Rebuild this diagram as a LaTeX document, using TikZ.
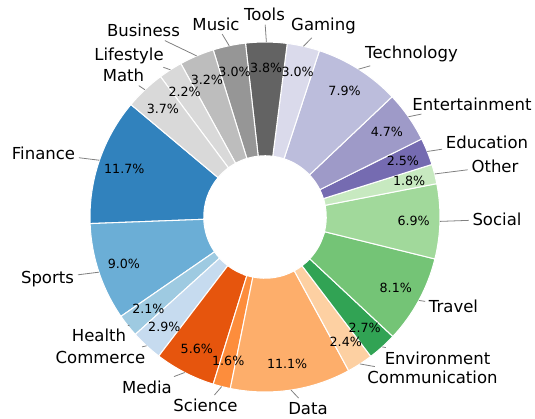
\documentclass[tikz,border=0pt]{standalone}
\usepackage{fontspec}
\setmainfont{DejaVu Sans}
\definecolor{colFinance}{HTML}{3182BD}
\definecolor{colSports}{HTML}{6BAED6}
\definecolor{colHealth}{HTML}{9ECAE1}
\definecolor{colCommerce}{HTML}{C6DBEF}
\definecolor{colMedia}{HTML}{E6550D}
\definecolor{colScience}{HTML}{FD8D3C}
\definecolor{colData}{HTML}{FDAE6B}
\definecolor{colCommunication}{HTML}{FDD0A2}
\definecolor{colEnvironment}{HTML}{31A354}
\definecolor{colTravel}{HTML}{74C476}
\definecolor{colSocial}{HTML}{A1D99B}
\definecolor{colOther}{HTML}{C7E9C0}
\definecolor{colEducation}{HTML}{756BB1}
\definecolor{colEntertainment}{HTML}{9E9AC8}
\definecolor{colTechnology}{HTML}{BCBDDC}
\definecolor{colGaming}{HTML}{DADAEB}
\definecolor{colTools}{HTML}{636363}
\definecolor{colMusic}{HTML}{969696}
\definecolor{colBusiness}{HTML}{BDBDBD}
\definecolor{colLifestyle}{HTML}{D9D9D9}
\definecolor{colMath}{HTML}{D9D9D9}
\def\ringpart[#1](#2:#3){\filldraw[fill=#1, draw=white, line width=0.6pt] (#2:1.225) -- (#2:3.5) arc (#2:#3:3.5) -- (#3:1.225) arc (#3:#2:1.225) -- cycle;}

\begin{document}
\begin{tikzpicture}[
		lbl/.style={font=\fontsize{9.4}{11}\selectfont, anchor=base, inner sep=2pt},
		pct/.style={font=\fontsize{7.2}{8.6}\selectfont, inner sep=0pt},
		leader/.style={draw=gray, line width=0.45pt}]
		%%%%% START %%%%%
		
		\useasboundingbox (-5.30,-4.02) rectangle (5.40,4.34);
		
		% ring
		\ringpart[colFinance](140:182.16)
		\ringpart[colSports](182.16:214.59)
		\ringpart[colHealth](214.59:222.16)
		\ringpart[colCommerce](222.16:232.61)
		\ringpart[colMedia](232.61:252.79)
		\ringpart[colScience](252.79:258.56)
		\ringpart[colData](258.56:298.56)
		\ringpart[colCommunication](298.56:307.21)
		\ringpart[colEnvironment](307.21:316.94)
		\ringpart[colTravel](316.94:346.13)
		\ringpart[colSocial](346.13:370.99)
		\ringpart[colOther](370.99:377.48)
		\ringpart[colEducation](377.48:386.49)
		\ringpart[colEntertainment](386.49:403.42)
		\ringpart[colTechnology](403.42:431.89)
		\ringpart[colGaming](431.89:442.70)
		\ringpart[colTools](442.70:456.40)
		\ringpart[colMusic](456.40:467.21)
		\ringpart[colBusiness](467.21:478.74)
		\ringpart[colLifestyle](478.74:486.67)
		\ringpart[colMath](486.67:500)
		
		% percentages
		\node[pct] (p-finance) at (161.08:2.975) {11.7\%};
		\node[pct] (p-sports) at (198.38:2.975) {9.0\%};
		\node[pct] (p-health) at (218.38:2.975) {2.1\%};
		\node[pct] (p-commerce) at (227.39:2.975) {2.9\%};
		\node[pct] (p-media) at (242.70:2.975) {5.6\%};
		\node[pct] (p-science) at (255.68:2.975) {1.6\%};
		\node[pct] (p-data) at (278.56:2.975) {11.1\%};
		\node[pct] (p-communication) at (302.89:2.975) {2.4\%};
		\node[pct] (p-environment) at (312.08:2.975) {2.7\%};
		\node[pct] (p-travel) at (331.54:2.975) {8.1\%};
		\node[pct] (p-social) at (358.56:2.975) {6.9\%};
		\node[pct] (p-other) at (374.24:2.975) {1.8\%};
		\node[pct] (p-education) at (381.99:2.975) {2.5\%};
		\node[pct] (p-entertainment) at (394.96:2.975) {4.7\%};
		\node[pct] (p-technology) at (417.66:2.975) {7.9\%};
		\node[pct] (p-gaming) at (437.30:2.975) {3.0\%};
		\node[pct] (p-tools) at (449.55:2.975) {3.8\%};
		\node[pct] (p-music) at (461.81:2.975) {3.0\%};
		\node[pct] (p-business) at (472.98:2.975) {3.2\%};
		\node[pct] (p-lifestyle) at (482.71:2.975) {2.2\%};
		\node[pct] (p-math) at (493.34:2.975) {3.7\%};
		
		% outer edge points
		\coordinate (e-finance) at (161.08:3.5);
		\coordinate (e-sports) at (198.38:3.5);
		\coordinate (e-health) at (218.38:3.5);
		\coordinate (e-commerce) at (227.39:3.5);
		\coordinate (e-media) at (242.70:3.5);
		\coordinate (e-science) at (255.68:3.5);
		\coordinate (e-data) at (278.56:3.5);
		\coordinate (e-communication) at (302.89:3.5);
		\coordinate (e-environment) at (312.08:3.5);
		\coordinate (e-travel) at (331.54:3.5);
		\coordinate (e-social) at (358.56:3.5);
		\coordinate (e-other) at (374.24:3.5);
		\coordinate (e-education) at (381.99:3.5);
		\coordinate (e-entertainment) at (394.96:3.5);
		\coordinate (e-technology) at (417.66:3.5);
		\coordinate (e-gaming) at (437.30:3.5);
		\coordinate (e-tools) at (449.55:3.5);
		\coordinate (e-music) at (461.81:3.5);
		\coordinate (e-business) at (472.98:3.5);
		\coordinate (e-lifestyle) at (482.71:3.5);
		\coordinate (e-math) at (493.34:3.5);
		
		% labels
		\node[lbl] (finance) at (-4.43, 1.15) {Finance};
		\node[lbl] (sports) at (-4.35, -1.32) {Sports};
		\node[lbl] (health) at (-3.32, -2.49) {Health};
		\node[lbl] (commerce) at (-3.29, -2.92) {Commerce};
		\node[lbl] (media) at (-2.36, -3.52) {Media};
		\node[lbl] (science) at (-1.19, -3.89) {Science};
		\node[lbl] (data) at (0.86, -3.94) {Data};
		\node[lbl] (communication) at (3.35, -3.32) {Communication};
		\node[lbl] (environment) at (3.45, -2.94) {Environment};
		\node[lbl] (travel) at (3.77, -1.90) {Travel};
		\node[lbl] (social) at (4.64, -0.17) {Social};
		\node[lbl] (other) at (4.60, 0.89) {Other};
		\node[lbl] (education) at (4.44, 1.37) {Education};
		\node[lbl] (entertainment) at (4.14, 2.14) {Entertainment};
		\node[lbl] (technology) at (2.93, 3.17) {Technology};
		\node[lbl] (gaming) at (1.17, 3.73) {Gaming};
		\node[lbl] (tools) at (-0.01, 3.93) {Tools};
		\node[lbl] (music) at (-0.98, 3.74) {Music};
		\node[lbl] (business) at (-2.43, 3.61) {Business};
		\node[lbl] (lifestyle) at (-2.72, 3.14) {Lifestyle};
		\node[lbl] (math) at (-2.83, 2.71) {Math};
		
		% leaders
		\draw[leader] (e-finance) -- (finance);
		\draw[leader] (e-sports) -- (sports);
		\draw[leader] (e-health) -- (health);
		\draw[leader] (e-commerce) -- (commerce);
		\draw[leader] (e-media) -- (media);
		\draw[leader] (e-science) -- (science);
		\draw[leader] (e-data) -- (data);
		\draw[leader] (e-communication) -- (communication);
		\draw[leader] (e-environment) -- (environment);
		\draw[leader] (e-travel) -- (travel);
		\draw[leader] (e-social) -- (social);
		\draw[leader] (e-other) -- (other);
		\draw[leader] (e-education) -- (education);
		\draw[leader] (e-entertainment) -- (entertainment);
		\draw[leader] (e-technology) -- (technology);
		\draw[leader] (e-gaming) -- (gaming);
		\draw[leader] (e-tools) -- (tools);
		\draw[leader] (e-music) -- (music);
		\draw[leader] (e-business) -- (business);
		\draw[leader] (e-lifestyle) -- (lifestyle);
		\draw[leader] (e-math) -- (math);
		
		%%%%% END %%%%%
	\end{tikzpicture}
\end{document}
